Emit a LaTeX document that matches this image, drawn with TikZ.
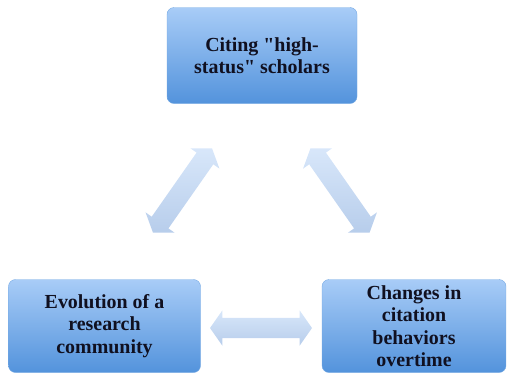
\documentclass[tikz,border=0pt]{standalone}
\usepackage{fontspec}
\setmainfont{Liberation Serif}
\usepackage{tikz}
\usetikzlibrary{shapes.arrows}

\definecolor{boxtop}{HTML}{A8CCF7}
\definecolor{boxbot}{HTML}{5393DC}
\definecolor{arrtop}{HTML}{D8E7FA}
\definecolor{arrbot}{HTML}{B7CDEB}
\definecolor{txt}{HTML}{101020}

\tikzset{
  topic/.style={rounded corners=7bp, top color=boxtop, bottom color=boxbot,
    draw=boxbot!80!white, line width=0.4bp, align=center, text=txt,
    font=\fontsize{20}{22.5}\selectfont\bfseries, inner sep=0pt},
  link/.style={double arrow, double arrow head extend=7.5bp,
    double arrow tip angle=110, inner xsep=0pt, inner ysep=10bp,
    top color=arrtop, bottom color=arrbot, draw=none}
}

\begin{document}
\begin{tikzpicture}[x=1bp,y=-1bp]
\useasboundingbox (0,0) rectangle (509,376);
%Блоки
\node[topic, minimum width=190bp, minimum height=96bp] (cite) at (262,55.5)
  {Citing \textquotedbl high-\\status\textquotedbl{} scholars};
\node[topic, minimum width=192bp, minimum height=93bp] (evol) at (104.5,326)
  {Evolution of a\\research\\community};
\node[topic, minimum width=184bp, minimum height=93bp] (chng) at (414,326)
  {Changes in\\citation\\behaviors\\overtime};
%Двойные стрелки между блоками
\node[link, minimum height=103bp, rotate=55] (l1) at (182.5,190.5) {};
\node[link, minimum height=103bp, rotate=-55] (l2) at (340,190.5) {};
\node[link, minimum height=102bp] (l3) at (261,328) {};
\end{tikzpicture}
\end{document}
